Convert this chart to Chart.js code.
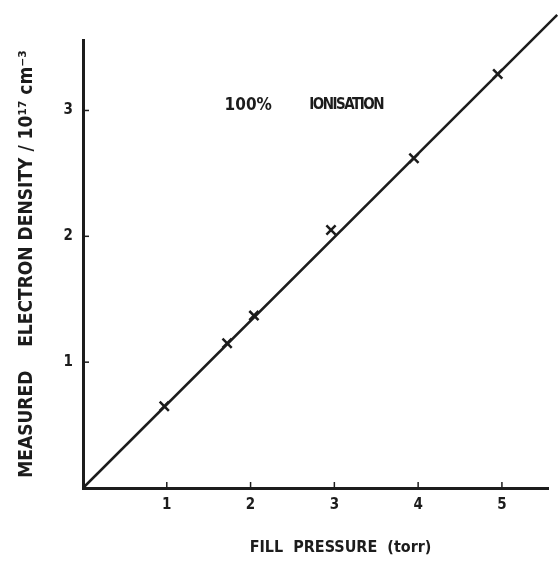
<!DOCTYPE html>
<html>
<head>
<meta charset="utf-8">
<script src="https://cdn.jsdelivr.net/npm/chart.js@4.4.1/dist/chart.umd.min.js"></script>
<style>
  html, body { margin: 0; padding: 0; background: #fff; }
  #wrap { width: 560px; height: 568px; }
</style>
</head>
<body>
<div id="wrap"><canvas id="canvas" width="560" height="568"></canvas></div>
<script>
// fill pressure (torr) and measured electron density (10^17 cm^-3)
const pressure = [0.97, 1.72, 2.04, 2.96, 3.95, 4.95];
const density = [0.65, 1.15, 1.37, 2.05, 2.62, 3.29];

// fitted line, runs off the top right of the axes
const fitX = [0, 5.66];
const fitY = [0, 3.76];

const xTicks = [1, 2, 3, 4, 5];
const yTicks = [1, 2, 3];

const ink = '#1c1c1c';
const font = "'DejaVu Sans Condensed', 'DejaVu Sans', sans-serif";

// small tick marks pointing inside the axes, plus the "100% IONISATION" note
const extras = {
    id: 'extras',
    afterDraw(chart) {
        const ctx = chart.ctx;
        const xs = chart.scales.x, ys = chart.scales.y;
        const x0 = xs.getPixelForValue(0), y0 = ys.getPixelForValue(0);
        ctx.save();
        ctx.strokeStyle = ink;
        ctx.lineWidth = 1.5;
        xTicks.forEach(function (v) {
            let px = xs.getPixelForValue(v);
            ctx.beginPath();
            ctx.moveTo(px, y0);
            ctx.lineTo(px, y0 - 6);
            ctx.stroke();
        });
        yTicks.forEach(function (v) {
            let py = ys.getPixelForValue(v);
            ctx.beginPath();
            ctx.moveTo(x0, py);
            ctx.lineTo(x0 + 6, py);
            ctx.stroke();
        });
        ctx.fillStyle = ink;
        ctx.textBaseline = 'middle';
        ctx.textAlign = 'left';
        let ty = ys.getPixelForValue(3.04);
        ctx.font = "bold 17px " + font;
        ctx.fillText('100%', xs.getPixelForValue(1.69), ty);
        ctx.font = "bold 15px " + font;
        ctx.letterSpacing = '-1.5px';
        ctx.fillText('IONISATION', xs.getPixelForValue(2.70), ty);
        ctx.restore();
    }
};

let ctx = document.getElementById("canvas").getContext("2d");
const mychart = new Chart(ctx, {
    type: 'scatter',
    data: {
        datasets: [{
            label: 'measured',
            data: pressure.map((p, i) => ({x: p, y: density[i]})),
            pointStyle: 'crossRot',
            pointRadius: 6.5,
            pointBorderWidth: 2.5,
            borderColor: ink,
            backgroundColor: ink,
            showLine: false
        }, {
            label: 'fit',
            data: fitX.map((p, i) => ({x: p, y: fitY[i]})),
            showLine: true,
            borderColor: ink,
            borderWidth: 2.5,
            pointRadius: 0,
            clip: false
        }]
    },
    options: {
        responsive: false,
        animation: false,
        layout: { padding: { left: 0, top: 40, right: 12, bottom: 0 } },
        plugins: {
            legend: { display: false },
            tooltip: { enabled: false }
        },
        scales: {
            x: {
                type: 'linear',
                min: 0,
                max: 5.55,
                afterFit: function (scale) { scale.height = 80; },
                afterBuildTicks: function (scale) { scale.ticks = xTicks.map(v => ({value: v})); },
                grid: { display: false },
                border: { display: true, color: ink, width: 3 },
                ticks: {
                    color: ink,
                    padding: 0,
                    font: { family: font, size: 15, weight: 'bold' }
                },
                title: {
                    display: true,
                    text: '          FILL  PRESSURE  (torr)',
                    color: ink,
                    padding: { top: 0, bottom: 11 },
                    font: { family: font, size: 16, weight: 'bold' }
                }
            },
            y: {
                type: 'linear',
                min: 0,
                max: 3.56,
                afterFit: function (scale) { scale.width = 83; },
                afterBuildTicks: function (scale) { scale.ticks = yTicks.map(v => ({value: v})); },
                grid: { display: false },
                border: { display: true, color: ink, width: 3 },
                ticks: {
                    color: ink,
                    padding: 2,
                    font: { family: font, size: 15, weight: 'bold' }
                },
                title: {
                    display: true,
                    text: 'MEASURED    ELECTRON DENSITY / 10\u00b9\u2077 cm\u207b\u00b3',
                    color: ink,
                    padding: { top: 16, bottom: 0 },
                    font: { family: font, size: 19, weight: 'bold' }
                }
            }
        }
    },
    plugins: [extras]
});
</script>
</body>
</html>
